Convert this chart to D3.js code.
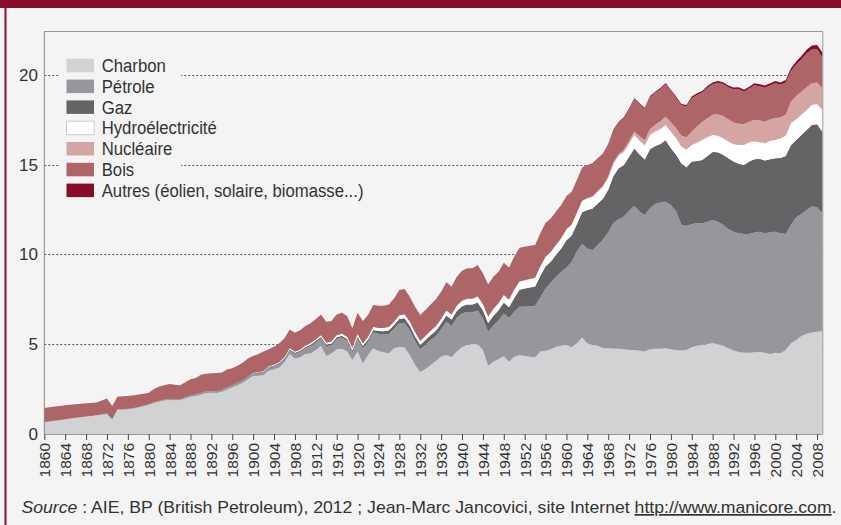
<!DOCTYPE html>
<html>
<head>
<meta charset="utf-8">
<script src="https://cdn.jsdelivr.net/npm/d3@7"></script>
<style>
body { margin: 0; background: #f4f4f4; }
svg { display: block; }
</style>
</head>
<body>
<svg id="chart"></svg>
<script>
// annees 1860 -> 2009
var firstYear = 1860, lastYear = 2009;
var years = d3.range(firstYear, lastYear + 1);

var charbon = [
  0.67,0.70,0.74,0.78,0.82,0.86,0.90,0.94,0.98,1.00,
  1.04,1.08,1.12,0.80,1.35,1.36,1.37,1.40,1.48,1.55,
  1.62,1.72,1.80,1.86,1.90,1.88,1.88,1.98,2.08,2.12,
  2.20,2.28,2.30,2.28,2.35,2.48,2.60,2.72,2.85,3.05,
  3.23,3.25,3.29,3.53,3.60,3.71,4.00,4.46,4.21,4.27,
  4.46,4.49,4.68,4.90,4.34,4.49,4.72,4.75,4.59,4.12,
  4.59,3.94,4.40,4.77,4.62,4.55,4.50,4.78,4.85,4.83,
  4.40,3.84,3.45,3.62,3.84,4.07,4.31,4.40,4.27,4.59,
  4.83,4.96,5.01,5.00,4.68,3.80,4.03,4.16,4.34,4.03,
  4.31,4.40,4.34,4.31,4.27,4.59,4.64,4.72,4.86,4.92,
  4.96,4.83,5.05,5.38,5.05,4.96,4.92,4.77,4.77,4.75,
  4.75,4.72,4.68,4.68,4.64,4.59,4.72,4.75,4.75,4.77,
  4.72,4.68,4.65,4.68,4.83,4.91,4.96,5.02,5.05,5.00,
  4.91,4.78,4.65,4.57,4.53,4.53,4.55,4.57,4.53,4.46,
  4.53,4.50,4.68,5.05,5.24,5.46,5.58,5.65,5.70,5.74
];
var petrole = [
  0,0,0,0,0,0,0,0,0,0,
  0.01,0.01,0.02,0.02,0.02,0.02,0.03,0.03,0.03,0.04,
  0.04,0.05,0.05,0.05,0.06,0.06,0.06,0.07,0.07,0.08,
  0.08,0.09,0.09,0.09,0.10,0.10,0.10,0.11,0.12,0.12,
  0.12,0.14,0.16,0.17,0.18,0.19,0.19,0.20,0.25,0.30,
  0.30,0.40,0.42,0.42,0.55,0.45,0.57,0.62,0.60,0.45,
  0.71,0.84,0.73,0.88,0.96,0.99,1.09,1.08,1.34,1.36,
  1.36,1.35,1.26,1.35,1.39,1.38,1.52,1.85,1.75,1.88,
  1.89,1.84,1.77,1.88,1.75,1.90,2.01,2.16,2.37,2.43,
  2.50,2.69,2.75,2.80,2.88,3.02,3.47,3.71,3.90,4.12,
  4.32,4.77,5.11,5.20,5.29,5.29,5.61,6.07,6.45,7.02,
  7.21,7.39,7.76,8.02,7.75,7.61,7.85,8.06,8.14,8.17,
  8.04,7.71,7.00,6.91,6.87,6.83,6.78,6.81,6.87,6.83,
  6.74,6.64,6.62,6.61,6.61,6.61,6.67,6.70,6.65,6.78,
  6.74,6.68,6.46,6.60,6.83,6.80,6.90,7.02,6.93,6.56
];
var gaz = [
  0,0,0,0,0,0,0,0,0,0,
  0,0,0,0,0,0,0,0,0,0,
  0,0,0,0,0,0,0,0,0,0.01,
  0.01,0.01,0.01,0.01,0.02,0.02,0.02,0.02,0.02,0.03,
  0.03,0.03,0.03,0.04,0.04,0.05,0.05,0.06,0.06,0.07,
  0.08,0.08,0.09,0.09,0.09,0.10,0.10,0.10,0.10,0.10,
  0.12,0.12,0.13,0.15,0.16,0.18,0.19,0.21,0.23,0.26,
  0.27,0.26,0.25,0.26,0.28,0.30,0.32,0.35,0.36,0.38,
  0.40,0.42,0.43,0.45,0.46,0.48,0.55,0.58,0.62,0.60,
  0.77,0.95,1.01,1.05,1.06,1.21,1.24,1.17,1.22,1.30,
  1.52,1.46,1.54,1.77,2.14,2.31,2.31,2.26,2.38,2.60,
  2.84,2.88,3.00,3.20,3.18,3.09,3.29,3.23,3.26,3.42,
  3.16,3.16,3.43,3.27,3.48,3.47,3.53,3.66,3.79,3.86,
  3.90,3.94,3.91,3.87,3.85,4.04,4.09,4.07,4.05,4.07,
  4.09,4.20,4.35,4.45,4.31,4.40,4.46,4.55,4.63,4.55
];
var hydro = [
  0,0,0,0,0,0,0,0,0,0,
  0,0,0,0,0,0,0,0,0,0,
  0,0,0,0,0,0,0,0,0,0,
  0,0,0,0,0,0,0,0,0.01,0.01,
  0.02,0.02,0.03,0.03,0.04,0.05,0.05,0.05,0.06,0.06,
  0.07,0.08,0.08,0.09,0.10,0.11,0.11,0.12,0.12,0.12,
  0.14,0.14,0.15,0.16,0.17,0.18,0.18,0.19,0.20,0.21,
  0.22,0.22,0.22,0.23,0.24,0.25,0.26,0.27,0.28,0.29,
  0.30,0.31,0.32,0.33,0.34,0.35,0.37,0.39,0.41,0.42,
  0.45,0.46,0.47,0.48,0.49,0.51,0.52,0.54,0.55,0.57,
  0.60,0.60,0.62,0.63,0.64,0.65,0.66,0.67,0.68,0.69,
  0.70,0.72,0.73,0.75,0.77,0.78,0.80,0.81,0.84,0.86,
  0.92,0.93,0.93,0.97,0.92,1.02,1.11,1.04,0.95,0.92,
  0.93,0.93,0.96,1.05,1.11,1.07,0.98,0.91,0.97,1.02,
  1.02,1.10,1.12,1.21,1.15,1.12,1.11,1.11,1.13,1.20
];
var nucleaire = [
  0,0,0,0,0,0,0,0,0,0,
  0,0,0,0,0,0,0,0,0,0,
  0,0,0,0,0,0,0,0,0,0,
  0,0,0,0,0,0,0,0,0,0,
  0,0,0,0,0,0,0,0,0,0,
  0,0,0,0,0,0,0,0,0,0,
  0,0,0,0,0,0,0,0,0,0,
  0,0,0,0,0,0,0,0,0,0,
  0,0,0,0,0,0,0,0,0,0,
  0,0,0,0,0,0,0,0,0,0,
  0.01,0.01,0.01,0.02,0.03,0.04,0.05,0.06,0.07,0.09,
  0.10,0.13,0.16,0.20,0.25,0.30,0.33,0.38,0.43,0.46,
  0.53,0.55,0.60,0.70,0.75,0.90,1.02,1.06,1.12,1.20,
  1.24,1.24,1.21,1.18,1.17,1.15,1.21,1.21,1.20,1.20,
  1.21,1.16,1.17,1.21,1.30,1.30,1.27,1.21,1.19,1.21
];
var bois = [
  0.78,0.79,0.79,0.78,0.78,0.77,0.76,0.75,0.73,0.73,
  0.71,0.77,0.84,0.74,0.71,0.72,0.72,0.72,0.69,0.65,
  0.64,0.73,0.80,0.81,0.82,0.81,0.78,0.83,0.90,0.91,
  1.01,0.98,0.98,1.02,0.95,1.00,0.94,0.95,0.97,0.99,
  0.94,1.02,1.08,0.95,1.00,1.05,1.04,1.05,1.06,1.08,
  1.10,1.12,1.14,1.16,1.18,1.15,1.16,1.17,1.16,1.10,
  1.20,1.25,1.22,1.23,1.24,1.25,1.26,1.30,1.40,1.42,
  1.40,1.42,1.45,1.45,1.47,1.50,1.52,1.58,1.55,1.62,
  1.68,1.70,1.70,1.75,1.72,1.80,1.80,1.75,1.80,1.80,
  1.85,1.88,1.86,1.85,1.83,1.85,1.90,1.87,1.86,1.85,
  1.85,1.83,1.82,1.85,1.83,1.80,1.78,1.77,1.76,1.78,
  1.76,1.75,1.76,1.80,1.78,1.75,1.78,1.78,1.78,1.80,
  1.72,1.69,1.70,1.71,1.86,1.76,1.62,1.70,1.70,1.76,
  1.78,1.78,1.85,1.93,1.80,1.84,1.93,1.90,1.89,1.89,
  1.95,1.81,1.80,1.70,1.76,1.80,1.88,1.88,1.85,1.73
];
var autres = [
  0,0,0,0,0,0,0,0,0,0,
  0,0,0,0,0,0,0,0,0,0,
  0,0,0,0,0,0,0,0,0,0,
  0,0,0,0,0,0,0,0,0,0,
  0,0,0,0,0,0,0,0,0,0,
  0,0,0,0,0,0,0,0,0,0,
  0,0,0,0,0,0,0,0,0,0,
  0,0,0,0,0,0,0,0,0,0,
  0,0,0,0,0,0,0,0,0,0,
  0,0,0,0,0,0,0,0,0,0,
  0,0,0,0,0,0.03,0.03,0.03,0.04,0.04,
  0.04,0.05,0.05,0.05,0.05,0.06,0.06,0.06,0.07,0.07,
  0.08,0.08,0.08,0.09,0.09,0.09,0.09,0.10,0.10,0.10,
  0.10,0.10,0.10,0.11,0.11,0.11,0.11,0.12,0.12,0.12,
  0.13,0.13,0.14,0.15,0.16,0.18,0.20,0.22,0.24,0.26
];

var keys = ["charbon", "petrole", "gaz", "hydro", "nucleaire", "bois", "autres"];
var labels = ["Charbon", "Pétrole", "Gaz", "Hydroélectricité", "Nucléaire", "Bois", "Autres (éolien, solaire, biomasse...)"];
var colors = ["#d1d2d4", "#96979b", "#646466", "#ffffff", "#d5a5a4", "#ad6567", "#870c2c"];
var yTicks = [0, 5, 10, 15, 20];
var xTicks = d3.range(1860, 2009, 4);
var source = "http://www.manicore.com";

var series = {charbon: charbon, petrole: petrole, gaz: gaz, hydro: hydro,
              nucleaire: nucleaire, bois: bois, autres: autres};
var table = years.map(function (yr, i) {
    var row = {year: yr};
    keys.forEach(function (k) { row[k] = series[k][i]; });
    return row;
});

var svgWidth = 841, svgHeight = 525;
var plotLeft = 44.3, plotRight = 822.3, plotTop = 31, plotBottom = 434;

var svg = d3.select("#chart")
    .attr("width", svgWidth)
    .attr("height", svgHeight)
    .style("font-family", '"Liberation Sans", Arial, sans-serif');

svg.append("rect").attr("width", svgWidth).attr("height", svgHeight).attr("fill", "#f4f4f4");
svg.append("rect").attr("width", svgWidth).attr("height", 8).attr("fill", "#860b2d");
svg.append("rect").attr("x", 4.5).attr("y", 0).attr("width", 2).attr("height", svgHeight).attr("fill", "#8a0f30");

var xScale = d3.scaleLinear().domain([firstYear, lastYear]).range([plotLeft, plotRight]);
var yScale = d3.scaleLinear().domain([0, 22.45]).range([plotBottom, plotTop]);

// pointilles
svg.append("g").selectAll("line")
    .data(yTicks.filter(function (d) { return d > 0; }))
    .enter()
    .append("line")
    .attr("x1", plotLeft)
    .attr("x2", plotRight)
    .attr("y1", function (d) { return Math.round(yScale(d)) + 0.5; })
    .attr("y2", function (d) { return Math.round(yScale(d)) + 0.5; })
    .attr("stroke", "#555")
    .attr("stroke-dasharray", "2,2");

var stacked = d3.stack().keys(keys)(table);

var area = d3.area()
    .x(function (d) { return xScale(d.data.year); })
    .y0(function (d) { return yScale(d[0]); })
    .y1(function (d) { return yScale(d[1]); });

svg.append("g").selectAll("path")
    .data(stacked)
    .enter()
    .append("path")
    .attr("d", area)
    .attr("fill", function (d, i) { return colors[i]; });

// cadre
svg.append("path")
    .attr("d", "M" + plotLeft + "," + (plotTop + 0.5) + "H" + (plotRight + 0.5) + "V" + plotBottom)
    .attr("fill", "none")
    .attr("stroke", "#999");
svg.append("line")
    .attr("x1", plotLeft).attr("x2", plotLeft)
    .attr("y1", plotTop).attr("y2", plotBottom)
    .attr("stroke", "#888");

// axe x
var xAxis = d3.axisBottom(xScale)
    .tickValues(xTicks)
    .tickSize(6)
    .tickSizeOuter(0)
    .tickFormat(d3.format("d"));

var gx = svg.append("g")
    .attr("transform", "translate(0," + plotBottom + ")")
    .call(xAxis);
gx.select(".domain").attr("stroke", "#999");
gx.selectAll(".tick line").attr("stroke", "#444");
gx.selectAll(".tick text")
    .attr("transform", "rotate(-90)")
    .attr("x", -9)
    .attr("y", 0)
    .attr("dy", "0.35em")
    .attr("text-anchor", "end")
    .attr("fill", "#333")
    .style("font-family", '"Liberation Sans", Arial, sans-serif')
    .style("font-size", "15.5px");

// axe y
svg.append("g").selectAll("text")
    .data(yTicks)
    .enter()
    .append("text")
    .attr("x", 38)
    .attr("y", function (d) { return yScale(d) + 6; })
    .attr("text-anchor", "end")
    .attr("fill", "#333")
    .style("font-size", "17px")
    .text(function (d) { return d; });

// legende
var legend = svg.append("g");
legend.append("rect")
    .attr("x", 60).attr("y", 54)
    .attr("width", 121).attr("height", 146)
    .attr("fill", "#f4f4f4");
var item = legend.selectAll("g")
    .data(labels)
    .enter()
    .append("g")
    .attr("transform", function (d, i) {
        return "translate(66," + (58.3 + i * 20.8) + ")";
    });
item.append("rect")
    .attr("x", 0.5).attr("y", 0.5)
    .attr("width", 27.5).attr("height", 13.5)
    .attr("fill", function (d, i) { return colors[i]; })
    .attr("stroke", function (d, i) { return i === 3 ? "#ccc" : "none"; });
item.append("text")
    .attr("transform", "translate(35.7,13.6) scale(0.88,1)")
    .attr("fill", "#333")
    .style("font-size", "19px")
    .text(function (d) { return d; });

// source
var src = svg.append("text")
    .attr("x", 21.5)
    .attr("y", 513)
    .attr("fill", "#333")
    .attr("textLength", 815)
    .attr("lengthAdjust", "spacingAndGlyphs")
    .style("font-size", "17px");
src.append("tspan").style("font-style", "italic").text("Source");
src.append("tspan").text(" : AIE, BP (British Petroleum), 2012 ; Jean-Marc Jancovici, site Internet ");
src.append("tspan").style("text-decoration", "underline").text(source);
src.append("tspan").text(".");
</script>
</body>
</html>
